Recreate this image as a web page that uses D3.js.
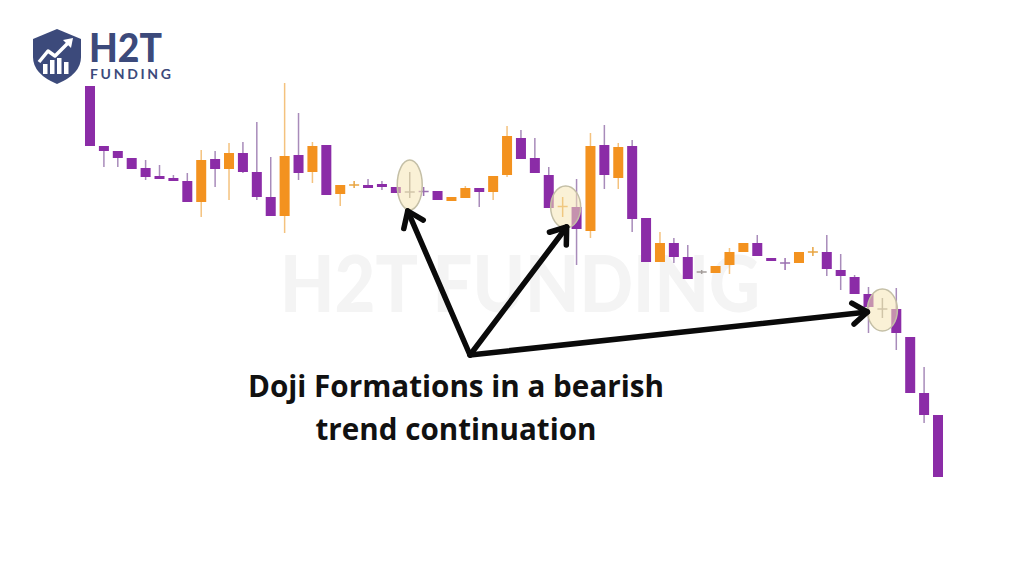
<!DOCTYPE html>
<html>
<head>
<meta charset="utf-8">
<script src="https://cdn.jsdelivr.net/npm/d3@7"></script>
<style>
  html, body { margin: 0; padding: 0; background: #ffffff; }
  svg { display: block; }
</style>
</head>
<body>
<svg id="chart" width="1024" height="572"></svg>
<script>
// ---------------- DATA (price units are arbitrary) ----------------
const openVals  = [414,354,349,342,332,324,322,319,298,341,331,347,328,303,284,345,328,355,306,314.5,315,316,313,308,308.5,309,299,302,312,308,325,362,342,325,293.5,293,269,355,322,354,282,238,257,243,228,227,235,248,257,242,237,237,248,248,230,223,206,191,191,163,107,85];
const closeVals = [354,349,342,331,323,321,319,298,340,331,347,328,303,284,344,327,354,305,315,315.5,312,313,307,308,308.5,300,303,312,308,324,364,341,327,292,293.5,271,354,325,353,281,238,257,243,221,228,234,248,257,244,239,237,248,248,231,224,206,193,191,167,107,85,23];
const highVals  = [414,354,349,342,340,335,325,327,350,349,357,358,378,343,417,387,358,355,315,319,321,319,313,328,313,309,303,314,312,324,374,370,362,333,303,321,367,375,357,360,282,268,262,255,230,234,252,257,265,242,242,248,253,265,246,225,213,202,212,163,133,85];
const lowVals   = [354,333,333,331,320,321,319,298,283,313,300,327,300,284,267,320,317,305,294,312,312,310,307,302,304,300,299,302,293,300,323,341,327,292,283,235,262,311,311,268,238,238,237,221,226,227,226,248,244,239,230,237,244,224,210,206,167,182,150,107,77,23];
// tone of each candle: "bear" (purple), "bull" (orange), "dojiO" orange doji, "dojiP" purple doji, "dojiG" grey doji
const tones = ["bear","bear","bear","bear","bear","bear","bear","bear","bull","bear","bull","bear","bear","bear","bull","bear","bull","bear","bull","dojiO","bear","bear","bear","dojiG","dojiP","bear","bull","bull","bear","bull","bull","bear","bear","bear","dojiO","bear","bull","bear","bull","bear","bear","bull","bear","bear","dojiG","bull","bull","bull","bear","bear","dojiP","bull","dojiO","bear","bear","bear","bear","dojiG","bear","bear","bear","bear"];
// highlighted doji candles (indices)
const highlightIdx = [23, 34, 57];
const captionLines = ["Doji Formations in a bearish", "trend continuation"];
const watermarkText = "H2T FUNDING";
const logoTitle = "H2T";
const logoSub = "FUNDING";

// ---------------- STYLES ----------------
const bodyColor = { bear: "#8b2ca7", bull: "#f3921f" };
const wickColor = { bear: "#a88bba", bull: "#f4c27e" };
const dojiColor = { dojiO: "#e8a441", dojiP: "#9a6fb0", dojiG: "#a39d9a" };
const navy = "#3c4a7b";

const svg = d3.select("#chart");
const n = openVals.length;
const data = d3.range(n).map(i => ({i, o: openVals[i], c: closeVals[i], h: highVals[i], l: lowVals[i], tone: tones[i]}));

const x = d3.scaleBand().domain(d3.range(n)).range([83.05, 944.95]).paddingInner(0.28).paddingOuter(0.14);
const y = d3.scaleLinear().domain([0, 500]).range([500, 0]);
const cx = i => x(i) + x.bandwidth() / 2;

// watermark
svg.append("text")
  .attr("x", 520).attr("y", 312)
  .attr("text-anchor", "middle")
  .attr("font-family", "Lato, 'Open Sans', sans-serif")
  .attr("font-weight", 900)
  .attr("font-size", 79)
  .attr("fill", "#f4f4f4")
  .attr("textLength", 480)
  .attr("lengthAdjust", "spacingAndGlyphs")
  .text(watermarkText);

// candles
const g = svg.append("g");
const cand = g.selectAll("g.c").data(data).join("g").attr("class", "c");

cand.append("line")
  .attr("x1", d => cx(d.i)).attr("x2", d => cx(d.i))
  .attr("y1", d => y(d.h)).attr("y2", d => y(d.l))
  .attr("stroke", d => d.tone.startsWith("doji") ? dojiColor[d.tone] : wickColor[d.tone])
  .attr("stroke-width", 1.5);

cand.filter(d => !d.tone.startsWith("doji")).append("rect")
  .attr("x", d => x(d.i))
  .attr("width", x.bandwidth())
  .attr("y", d => y(Math.max(d.o, d.c)))
  .attr("height", d => Math.max(2, Math.abs(y(d.o) - y(d.c))))
  .attr("fill", d => bodyColor[d.tone]);

cand.filter(d => d.tone.startsWith("doji")).append("line")
  .attr("x1", d => x(d.i)).attr("x2", d => x(d.i) + x.bandwidth())
  .attr("y1", d => y((d.o + d.c) / 2)).attr("y2", d => y((d.o + d.c) / 2))
  .attr("stroke", d => dojiColor[d.tone])
  .attr("stroke-width", 1.5);

// highlight ellipses
const ellSize = [[12.5, 25], [15, 21], [15, 21]];
const ellShift = [[0, 0], [3, 0], [0, 2]];
highlightIdx.forEach((idx, k) => {
  const d = data[idx];
  svg.append("ellipse")
    .attr("cx", cx(idx) + ellShift[k][0])
    .attr("cy", y((d.h + d.l) / 2) + ellShift[k][1])
    .attr("rx", ellSize[k][0]).attr("ry", ellSize[k][1])
    .attr("fill", "#f6e6b4").attr("fill-opacity", 0.55)
    .attr("stroke", "#c4bfa6").attr("stroke-width", 1.5);
});

// arrows
const origin = [470, 355];
const tipOffsets = [[-2, 26], [4, 20], [-15, 4]];
const arrows = svg.append("g").attr("stroke", "#0a0a0a").attr("stroke-width", 5.5)
  .attr("stroke-linecap", "round").attr("stroke-linejoin", "round").attr("fill", "none");
highlightIdx.forEach((idx, k) => {
  const d = data[idx];
  const tx = cx(idx) + tipOffsets[k][0];
  const ty = y((d.h + d.l) / 2) + tipOffsets[k][1];
  arrows.append("line").attr("x1", origin[0]).attr("y1", origin[1]).attr("x2", tx).attr("y2", ty);
  const ang = Math.atan2(ty - origin[1], tx - origin[0]);
  const L = 18, a = Math.PI * 0.2;
  const p1 = [tx - L * Math.cos(ang - a), ty - L * Math.sin(ang - a)];
  const p2 = [tx - L * Math.cos(ang + a), ty - L * Math.sin(ang + a)];
  arrows.append("path").attr("d", `M${p1[0]},${p1[1]} L${tx},${ty} L${p2[0]},${p2[1]}`);
});

// caption
const capY = [397, 440];
const capW = [416, 281];
captionLines.forEach((t, k) => {
  svg.append("text")
    .attr("x", 456).attr("y", capY[k])
    .attr("text-anchor", "middle")
    .attr("font-family", "'Open Sans', Lato, sans-serif")
    .attr("font-weight", 700)
    .attr("font-size", 30)
    .attr("fill", "#111111")
    .attr("textLength", capW[k])
    .attr("lengthAdjust", "spacingAndGlyphs")
    .text(t);
});

// logo
const logo = svg.append("g");
logo.append("path")
  .attr("d", "M33,39 L57,29 L81,39 L81,57 Q81,74 57,84 Q33,74 33,57 Z")
  .attr("fill", navy);
[[43, 64], [50, 60], [57, 58], [64, 62]].forEach(([bx, by]) => {
  logo.append("rect").attr("x", bx).attr("y", by).attr("width", 4.5).attr("height", 74 - by).attr("fill", "#ffffff");
});
logo.append("path")
  .attr("d", "M39,62 L48,51 L55,56 L69,42")
  .attr("stroke", "#ffffff").attr("stroke-width", 3.5).attr("fill", "none").attr("stroke-linejoin", "round");
logo.append("path").attr("d", "M63,40 L73,38 L71,48 Z").attr("fill", "#ffffff");
logo.append("text")
  .attr("x", 89).attr("y", 62)
  .attr("font-family", "Lato, 'Open Sans', sans-serif").attr("font-weight", 900)
  .attr("font-size", 39).attr("fill", navy)
  .attr("textLength", 73).attr("lengthAdjust", "spacingAndGlyphs")
  .text(logoTitle);
logo.append("text")
  .attr("x", 90).attr("y", 79)
  .attr("font-family", "Lato, 'Open Sans', sans-serif").attr("font-weight", 700)
  .attr("font-size", 14).attr("fill", navy)
  .attr("textLength", 81).attr("lengthAdjust", "spacing")
  .text(logoSub);
</script>
</body>
</html>
